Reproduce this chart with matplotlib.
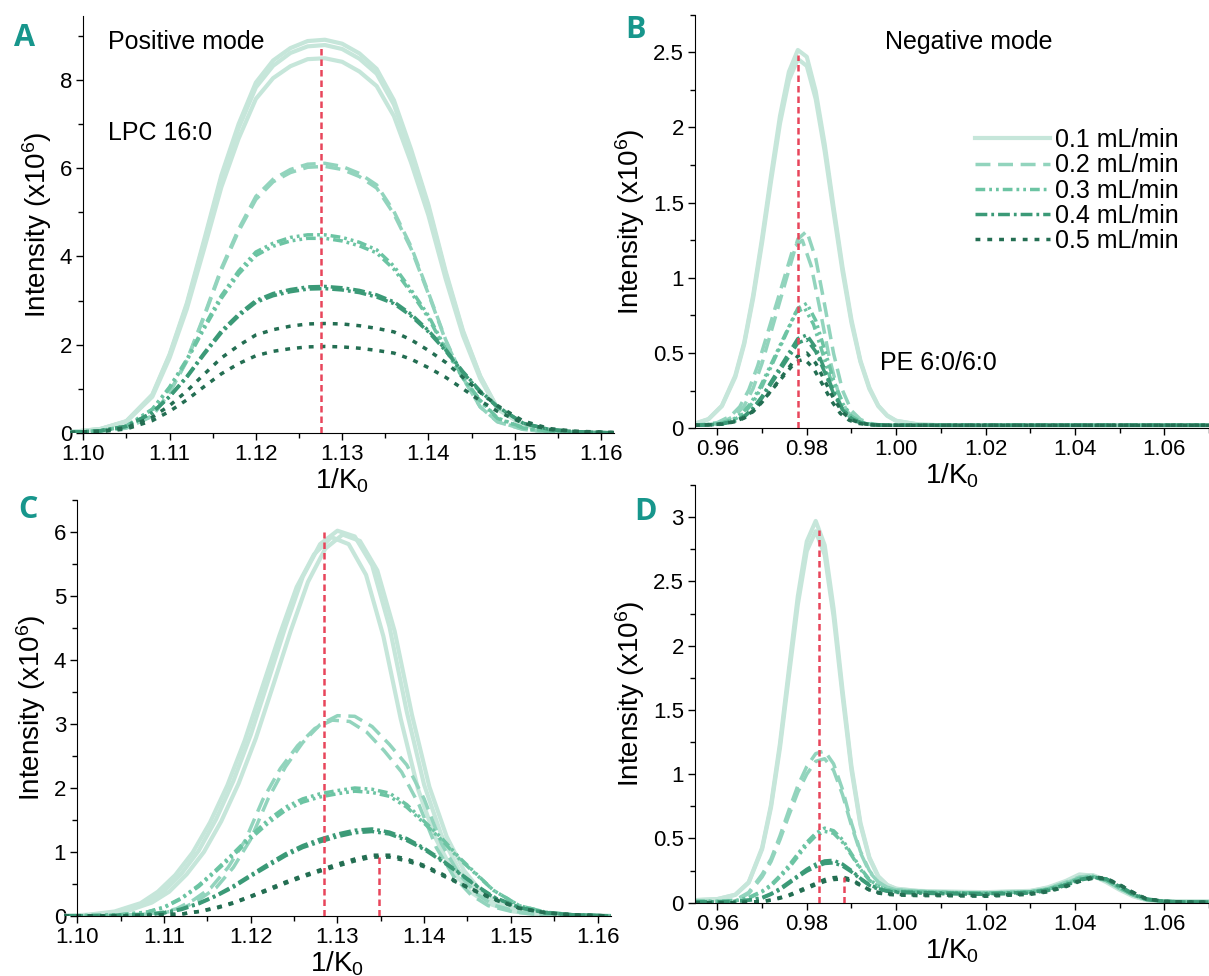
import numpy as np
import matplotlib
matplotlib.use('Agg')
import matplotlib.pyplot as plt
from matplotlib.ticker import MultipleLocator, FormatStrFormatter, FuncFormatter

plt.rcParams['font.family'] = ['Liberation Sans', 'DejaVu Sans']
plt.rcParams['mathtext.fontset'] = 'custom'
plt.rcParams['mathtext.rm'] = 'Liberation Sans'
plt.rcParams['mathtext.default'] = 'regular'

# flow rates, one style each (light -> dark)
rates = ['0.1 mL/min', '0.2 mL/min', '0.3 mL/min', '0.4 mL/min', '0.5 mL/min']
colors = ['#c6e6da', '#92d4bd', '#6cc4a3', '#3b9a77', '#236e52']
styles = ['-', (0, (4.3, 2.2)), (0, (2.8, 1.15, 0.8, 1.15, 0.8, 1.15)),
          (0, (3.4, 1.15, 0.8, 1.15)), (0, (1.4, 2.0))]
widths = [3.0, 2.5, 2.5, 2.5, 2.5]
red = '#e8455b'

# ---- panel A : LPC 16:0, positive mode ----
xa = [1.0985, 1.102, 1.105, 1.108, 1.110, 1.112, 1.114, 1.116, 1.118, 1.120,
      1.122, 1.124, 1.126, 1.128, 1.130, 1.132, 1.134, 1.136, 1.138, 1.140,
      1.142, 1.144, 1.146, 1.148, 1.151, 1.154, 1.157, 1.1615]
a_01 = [[0.02, 0.09, 0.27, 0.87, 1.78, 2.94, 4.37, 5.84, 7.00, 7.94, 8.44, 8.72, 8.88, 8.91,
         8.82, 8.60, 8.25, 7.54, 6.42, 5.17, 3.66, 2.32, 1.29, 0.56, 0.19, 0.06, 0.01, 0],
        [0.02, 0.09, 0.26, 0.85, 1.76, 2.90, 4.31, 5.76, 6.91, 7.83, 8.32, 8.61, 8.76, 8.79,
         8.70, 8.48, 8.14, 7.44, 6.34, 5.10, 3.61, 2.29, 1.28, 0.55, 0.18, 0.06, 0.01, 0],
        [0.02, 0.09, 0.26, 0.82, 1.70, 2.81, 4.17, 5.57, 6.67, 7.57, 8.04, 8.31, 8.47, 8.49,
         8.41, 8.19, 7.86, 7.18, 6.12, 4.93, 3.49, 2.21, 1.23, 0.54, 0.18, 0.06, 0.01, 0]]
a_02 = [[0.01, 0.04, 0.12, 0.39, 0.92, 1.65, 2.66, 3.73, 4.62, 5.36, 5.75, 5.97, 6.09, 6.11,
         6.04, 5.88, 5.62, 5.02, 4.22, 3.18, 2.11, 1.25, 0.59, 0.26, 0.08, 0.02, 0, 0],
        [0.01, 0.04, 0.11, 0.38, 0.91, 1.63, 2.63, 3.69, 4.57, 5.29, 5.69, 5.90, 6.02, 6.04,
         5.97, 5.81, 5.55, 4.96, 4.17, 3.15, 2.09, 1.24, 0.59, 0.25, 0.08, 0.02, 0, 0]]
a_03 = [[0.01, 0.05, 0.16, 0.54, 1.04, 1.67, 2.41, 3.11, 3.67, 4.10, 4.30, 4.43, 4.49, 4.49,
         4.43, 4.32, 4.15, 3.78, 3.24, 2.66, 1.91, 1.26, 0.74, 0.34, 0.12, 0.04, 0.01, 0],
        [0.01, 0.05, 0.15, 0.53, 1.02, 1.64, 2.36, 3.05, 3.60, 4.02, 4.23, 4.35, 4.41, 4.41,
         4.35, 4.24, 4.08, 3.71, 3.18, 2.61, 1.88, 1.24, 0.73, 0.33, 0.11, 0.04, 0.01, 0]]
a_04 = [[0.01, 0.05, 0.15, 0.46, 0.83, 1.28, 1.81, 2.31, 2.69, 3.00, 3.16, 3.25, 3.31, 3.32,
         3.29, 3.23, 3.13, 2.97, 2.69, 2.32, 1.89, 1.39, 0.95, 0.60, 0.22, 0.08, 0.03, 0],
        [0.01, 0.05, 0.15, 0.46, 0.82, 1.26, 1.78, 2.27, 2.65, 2.96, 3.11, 3.20, 3.26, 3.27,
         3.24, 3.18, 3.08, 2.93, 2.65, 2.29, 1.86, 1.37, 0.93, 0.59, 0.22, 0.08, 0.03, 0]]
a_05 = [[0.01, 0.04, 0.12, 0.36, 0.62, 0.95, 1.33, 1.70, 1.98, 2.22, 2.34, 2.42, 2.47, 2.48,
         2.47, 2.43, 2.37, 2.29, 2.11, 1.87, 1.60, 1.26, 0.92, 0.62, 0.27, 0.10, 0.04, 0.01],
        [0.01, 0.03, 0.09, 0.28, 0.49, 0.75, 1.05, 1.34, 1.57, 1.75, 1.85, 1.91, 1.95, 1.96,
         1.95, 1.92, 1.87, 1.81, 1.67, 1.48, 1.26, 1.00, 0.73, 0.49, 0.22, 0.08, 0.03, 0.01]]
a_shift = [[0, 0, 0], [0, 0], [0, 0], [0, 0], [0, 0]]
red_a_x = [1.1275]
red_a_top = [8.8]

# ---- panel B : PE 6:0/6:0, negative mode ----
xb = [0.955, 0.958, 0.961, 0.964, 0.966, 0.968, 0.970, 0.972, 0.974, 0.976,
      0.978, 0.980, 0.982, 0.984, 0.986, 0.988, 0.990, 0.992, 0.994, 0.996,
      0.998, 1.000, 1.005, 1.010, 1.020, 1.030, 1.040, 1.050, 1.060, 1.070]
b_01 = [[0.03, 0.06, 0.15, 0.35, 0.57, 0.885, 1.265, 1.68, 2.075, 2.37, 2.515, 2.47, 2.24, 1.89,
         1.47, 1.07, 0.72, 0.45, 0.27, 0.15, 0.085, 0.05, 0.025, 0.02, 0.02, 0.02, 0.02, 0.02, 0.02, 0.02],
        [0.032, 0.061, 0.147, 0.34, 0.559, 0.864, 1.235, 1.643, 2.026, 2.314, 2.455, 2.409, 2.189, 1.843,
         1.438, 1.042, 0.701, 0.442, 0.262, 0.147, 0.083, 0.049, 0.025, 0.02, 0.02, 0.02, 0.02, 0.02, 0.02, 0.02]]
b_02 = [[0.02, 0.026, 0.039, 0.085, 0.149, 0.265, 0.433, 0.639, 0.846, 1.052, 1.258, 1.31, 1.129, 0.82,
         0.497, 0.252, 0.117, 0.059, 0.033, 0.024, 0.02, 0.02, 0.02, 0.02, 0.02, 0.02, 0.02, 0.02, 0.02, 0.02],
        [0.02, 0.026, 0.038, 0.082, 0.143, 0.254, 0.414, 0.61, 0.807, 1.004, 1.201, 1.25, 1.078, 0.783,
         0.475, 0.241, 0.112, 0.057, 0.032, 0.024, 0.02, 0.02, 0.02, 0.02, 0.02, 0.02, 0.02, 0.02, 0.02, 0.02]]
b_03 = [[0.02, 0.024, 0.032, 0.061, 0.101, 0.174, 0.279, 0.409, 0.538, 0.668, 0.798, 0.83, 0.717, 0.522,
         0.32, 0.166, 0.081, 0.044, 0.028, 0.022, 0.02, 0.02, 0.02, 0.02, 0.02, 0.02, 0.02, 0.02, 0.02, 0.02],
        [0.02, 0.024, 0.032, 0.059, 0.098, 0.168, 0.27, 0.394, 0.519, 0.644, 0.769, 0.80, 0.691, 0.504,
         0.309, 0.16, 0.079, 0.043, 0.028, 0.022, 0.02, 0.02, 0.02, 0.02, 0.02, 0.02, 0.02, 0.02, 0.02, 0.02]]
b_04 = [[0.02, 0.023, 0.029, 0.05, 0.08, 0.134, 0.212, 0.308, 0.404, 0.50, 0.596, 0.62, 0.536, 0.392,
         0.242, 0.128, 0.065, 0.038, 0.026, 0.022, 0.02, 0.02, 0.02, 0.02, 0.02, 0.02, 0.02, 0.02, 0.02, 0.02],
        [0.02, 0.023, 0.029, 0.049, 0.077, 0.128, 0.202, 0.294, 0.385, 0.476, 0.567, 0.59, 0.51, 0.373,
         0.231, 0.123, 0.063, 0.037, 0.026, 0.022, 0.02, 0.02, 0.02, 0.02, 0.02, 0.02, 0.02, 0.02, 0.02, 0.02]]
b_05 = [[0.02, 0.022, 0.027, 0.044, 0.068, 0.111, 0.174, 0.25, 0.327, 0.404, 0.481, 0.50, 0.433, 0.318,
         0.198, 0.106, 0.056, 0.034, 0.025, 0.021, 0.02, 0.02, 0.02, 0.02, 0.02, 0.02, 0.02, 0.02, 0.02, 0.02],
        [0.02, 0.022, 0.027, 0.042, 0.064, 0.104, 0.161, 0.231, 0.302, 0.372, 0.442, 0.46, 0.398, 0.293,
         0.183, 0.099, 0.053, 0.033, 0.024, 0.021, 0.02, 0.02, 0.02, 0.02, 0.02, 0.02, 0.02, 0.02, 0.02, 0.02]]
b_shift = [[0, 0], [0, -0.001], [0, -0.0005], [0, 0], [0, -0.0005]]
red_b_x = [0.978]
red_b_top = [2.48]

# ---- panel C ----
xc = xa
c_01 = [[0, 0.02, 0.07, 0.21, 0.39, 0.66, 1.02, 1.51, 2.11, 2.83, 3.67, 4.52, 5.30, 5.81,
         6.02, 5.93, 5.48, 4.52, 3.19, 2.05, 1.26, 0.72, 0.39, 0.21, 0.07, 0.02, 0.01, 0],
        [0, 0.02, 0.07, 0.20, 0.38, 0.64, 0.99, 1.46, 2.04, 2.74, 3.56, 4.38, 5.14, 5.65,
         5.92, 5.81, 5.33, 4.37, 3.08, 1.98, 1.22, 0.70, 0.38, 0.20, 0.07, 0.02, 0.01, 0],
        [0, 0.02, 0.07, 0.21, 0.38, 0.65, 1.00, 1.48, 2.07, 2.78, 3.61, 4.45, 5.22, 5.74,
         5.96, 5.86, 5.40, 4.45, 3.14, 2.02, 1.24, 0.71, 0.38, 0.21, 0.07, 0.02, 0.01, 0]]
c_02 = [[0, 0, 0.01, 0.03, 0.05, 0.11, 0.25, 0.44, 0.76, 1.20, 1.83, 2.33, 2.71, 2.99,
         3.13, 3.12, 2.96, 2.68, 2.36, 1.83, 1.13, 0.66, 0.35, 0.17, 0.06, 0.02, 0.01, 0],
        [0, 0, 0.01, 0.03, 0.05, 0.11, 0.25, 0.44, 0.76, 1.19, 1.82, 2.30, 2.66, 2.93,
         3.06, 3.04, 2.87, 2.58, 2.25, 1.74, 1.07, 0.62, 0.33, 0.16, 0.06, 0.02, 0.01, 0]]
c_03 = [[0, 0.01, 0.02, 0.06, 0.14, 0.28, 0.48, 0.72, 0.98, 1.25, 1.50, 1.70, 1.83, 1.91,
         1.96, 2.00, 1.98, 1.92, 1.74, 1.48, 1.22, 0.92, 0.66, 0.40, 0.16, 0.06, 0.02, 0],
        [0, 0.01, 0.02, 0.06, 0.13, 0.27, 0.46, 0.70, 0.95, 1.21, 1.45, 1.65, 1.78, 1.86,
         1.91, 1.95, 1.93, 1.87, 1.70, 1.45, 1.19, 0.90, 0.65, 0.40, 0.16, 0.06, 0.02, 0]]
c_04 = [[0, 0, 0.01, 0.02, 0.05, 0.11, 0.20, 0.32, 0.47, 0.64, 0.81, 0.97, 1.10, 1.20,
         1.28, 1.34, 1.36, 1.31, 1.21, 1.06, 0.88, 0.68, 0.48, 0.30, 0.13, 0.05, 0.02, 0],
        [0, 0, 0.01, 0.02, 0.05, 0.10, 0.19, 0.31, 0.45, 0.62, 0.78, 0.94, 1.07, 1.16,
         1.24, 1.30, 1.32, 1.28, 1.18, 1.04, 0.86, 0.67, 0.47, 0.29, 0.13, 0.05, 0.02, 0]]
c_05 = [[0, 0, 0, 0.01, 0.02, 0.03, 0.07, 0.13, 0.21, 0.31, 0.42, 0.53, 0.63, 0.72,
         0.81, 0.89, 0.95, 0.95, 0.89, 0.79, 0.66, 0.52, 0.39, 0.27, 0.12, 0.05, 0.02, 0],
        [0, 0, 0, 0.01, 0.02, 0.03, 0.07, 0.12, 0.20, 0.30, 0.40, 0.51, 0.61, 0.70,
         0.78, 0.86, 0.92, 0.92, 0.86, 0.77, 0.64, 0.51, 0.38, 0.26, 0.12, 0.05, 0.02, 0]]
c_shift = [[0, -0.0007, 0.0006], [0, -0.0006], [0, 0], [0, 0], [0, 0]]
red_c_x = [1.1285, 1.1348]
red_c_top = [6.0, 0.95]

# ---- panel D ----
xd = [0.955, 0.960, 0.964, 0.967, 0.970, 0.972, 0.974, 0.976, 0.978, 0.980,
      0.982, 0.984, 0.986, 0.988, 0.990, 0.992, 0.994, 0.996, 0.998, 1.000,
      1.005, 1.010, 1.020, 1.030, 1.034, 1.038, 1.041, 1.044, 1.047, 1.050,
      1.053, 1.056, 1.060, 1.065, 1.070]
d_01 = [[0.02, 0.028, 0.062, 0.159, 0.427, 0.762, 1.238, 1.815, 2.385, 2.811, 2.97, 2.782, 2.288, 1.653,
         1.06, 0.622, 0.353, 0.205, 0.138, 0.109, 0.09, 0.085, 0.08, 0.09, 0.12, 0.17, 0.22, 0.21,
         0.16, 0.10, 0.05, 0.02, 0.01, 0.01, 0.01],
        [0.02, 0.028, 0.061, 0.156, 0.416, 0.742, 1.205, 1.766, 2.321, 2.736, 2.89, 2.707, 2.226, 1.609,
         1.032, 0.606, 0.346, 0.202, 0.136, 0.108, 0.092, 0.087, 0.082, 0.092, 0.115, 0.16, 0.205, 0.215,
         0.175, 0.11, 0.055, 0.022, 0.01, 0.01, 0.01]]
d_02 = [[0.01, 0.01, 0.02, 0.08, 0.22, 0.34, 0.52, 0.72, 0.91, 1.06, 1.16, 1.18, 1.08, 0.88,
         0.62, 0.40, 0.25, 0.16, 0.12, 0.10, 0.09, 0.08, 0.075, 0.085, 0.11, 0.16, 0.20, 0.21,
         0.17, 0.11, 0.06, 0.025, 0.01, 0.005, 0.005],
        [0.01, 0.01, 0.02, 0.07, 0.20, 0.32, 0.49, 0.68, 0.86, 1.00, 1.10, 1.12, 1.03, 0.84,
         0.60, 0.39, 0.24, 0.16, 0.12, 0.10, 0.09, 0.08, 0.075, 0.085, 0.11, 0.155, 0.195, 0.205,
         0.17, 0.11, 0.06, 0.025, 0.01, 0.005, 0.005]]
d_03 = [[0.01, 0.01, 0.015, 0.04, 0.09, 0.14, 0.21, 0.29, 0.38, 0.47, 0.54, 0.58, 0.56, 0.49,
         0.38, 0.27, 0.18, 0.13, 0.10, 0.09, 0.085, 0.08, 0.075, 0.085, 0.105, 0.15, 0.19, 0.205,
         0.175, 0.115, 0.06, 0.025, 0.01, 0.005, 0.005],
        [0.01, 0.01, 0.015, 0.035, 0.085, 0.13, 0.20, 0.27, 0.36, 0.45, 0.52, 0.555, 0.54, 0.47,
         0.37, 0.26, 0.175, 0.125, 0.10, 0.09, 0.085, 0.08, 0.075, 0.085, 0.105, 0.145, 0.185, 0.20,
         0.175, 0.115, 0.06, 0.025, 0.01, 0.005, 0.005]]
d_04 = [[0.005, 0.005, 0.01, 0.02, 0.04, 0.07, 0.11, 0.16, 0.21, 0.26, 0.30, 0.325, 0.33, 0.30,
         0.25, 0.19, 0.14, 0.11, 0.09, 0.085, 0.08, 0.075, 0.07, 0.08, 0.10, 0.14, 0.18, 0.20,
         0.185, 0.125, 0.065, 0.025, 0.01, 0.005, 0.005],
        [0.005, 0.005, 0.01, 0.02, 0.035, 0.065, 0.10, 0.15, 0.20, 0.245, 0.28, 0.305, 0.31, 0.285,
         0.24, 0.185, 0.135, 0.105, 0.09, 0.08, 0.075, 0.07, 0.065, 0.075, 0.095, 0.135, 0.175, 0.195,
         0.185, 0.13, 0.07, 0.03, 0.01, 0.005, 0.005]]
d_05 = [[0.0, 0.0, 0.0, 0.005, 0.01, 0.02, 0.04, 0.06, 0.09, 0.12, 0.15, 0.18, 0.195, 0.20,
         0.18, 0.14, 0.10, 0.08, 0.07, 0.065, 0.06, 0.06, 0.055, 0.07, 0.09, 0.13, 0.17, 0.20,
         0.19, 0.14, 0.08, 0.03, 0.01, 0.005, 0.005],
        [0.0, 0.0, 0.0, 0.005, 0.01, 0.02, 0.035, 0.055, 0.08, 0.11, 0.14, 0.165, 0.18, 0.185,
         0.17, 0.135, 0.10, 0.075, 0.065, 0.06, 0.055, 0.055, 0.05, 0.065, 0.085, 0.125, 0.165, 0.19,
         0.185, 0.14, 0.08, 0.03, 0.01, 0.005, 0.005]]
d_shift = [[0, 0], [0, 0], [0, 0], [0, 0], [0, 0]]
red_d_x = [0.9828, 0.9883]
red_d_top = [2.9, 0.2]


def draw(ax, x, groups, shifts, red_x, red_top):
    for i, reps in enumerate(groups):
        for j, y in enumerate(reps):
            ax.plot(np.array(x) + shifts[i][j], y, color=colors[i], ls=styles[i], lw=widths[i],
                    label=rates[i] if j == 0 else None)
    for rx, rt in zip(red_x, red_top):
        ax.plot([rx, rx], [0, rt], color=red, lw=1.8, ls=(0, (2.6, 1.6)), zorder=5)


def style(ax, xlim, ylim, xmaj, ymaj, spine_x=None):
    ax.set_facecolor('none')
    ax.set_xlim(*xlim)
    ax.set_ylim(*ylim)
    ax.spines['top'].set_visible(False)
    ax.spines['right'].set_visible(False)
    if spine_x is not None:
        ax.spines['left'].set_position(('data', spine_x))
        ax.spines['bottom'].set_bounds(spine_x, xlim[1])
    ax.xaxis.set_major_locator(MultipleLocator(xmaj))
    ax.xaxis.set_minor_locator(MultipleLocator(xmaj / 2))
    ax.yaxis.set_major_locator(MultipleLocator(ymaj))
    ax.yaxis.set_minor_locator(MultipleLocator(ymaj / 2))
    ax.xaxis.set_major_formatter(FormatStrFormatter('%.2f'))
    ax.yaxis.set_major_formatter(FuncFormatter(lambda v, p: '%g' % v))
    ax.tick_params(which='major', direction='out', length=5, width=1, labelsize=16, pad=3)
    ax.tick_params(which='minor', direction='out', length=3.5, width=1)
    ax.set_xlabel('1/K$_0$', fontsize=20, labelpad=1)
    ax.set_ylabel('Intensity (x10$^6$)', fontsize=20, labelpad=4)


fig = plt.figure(figsize=(12.09, 9.76), dpi=100)
axA = fig.add_axes([0.0582, 0.5564, 0.4496, 0.4273])
axB = fig.add_axes([0.5749, 0.5612, 0.4251, 0.4238])
axC = fig.add_axes([0.0532, 0.0615, 0.4518, 0.4262])
axD = fig.add_axes([0.5749, 0.0751, 0.4251, 0.4280])

draw(axA, xa, [a_01, a_02, a_03, a_04, a_05], a_shift, red_a_x, red_a_top)
draw(axB, xb, [b_01, b_02, b_03, b_04, b_05], b_shift, red_b_x, red_b_top)
draw(axC, xc, [c_01, c_02, c_03, c_04, c_05], c_shift, red_c_x, red_c_top)
draw(axD, xd, [d_01, d_02, d_03, d_04, d_05], d_shift, red_d_x, red_d_top)

style(axA, (1.0985, 1.1615), (0, 9.45), 0.01, 2, spine_x=1.10)
style(axB, (0.955, 1.070), (0, 2.75), 0.02, 0.5)
style(axC, (1.0985, 1.1615), (0, 6.5), 0.01, 1, spine_x=1.10)
style(axD, (0.955, 1.070), (0, 3.25), 0.02, 0.5)

axA.text(0.069, 0.938, 'Positive mode', transform=axA.transAxes, fontsize=18, va='center')
axA.text(0.069, 0.719, 'LPC 16:0', transform=axA.transAxes, fontsize=18, va='center')
axB.text(0.37, 0.934, 'Negative mode', transform=axB.transAxes, fontsize=18, va='center')
axB.text(0.36, 0.158, 'PE 6:0/6:0', transform=axB.transAxes, fontsize=18, va='center')

axB.legend(loc='upper left', bbox_to_anchor=(0.545, 0.7255), frameon=False, fontsize=18,
           handlelength=3.0, handletextpad=0.2, labelspacing=0.05, borderpad=0, borderaxespad=0)

for lab, px, py in [('A', 0.0199, 0.961), ('B', 0.526, 0.969), ('C', 0.0232, 0.4775), ('D', 0.534, 0.475)]:
    fig.text(px, py, lab, fontsize=22, fontweight='bold', color='#17968c',
             ha='center', va='center', family=['Open Sans', 'DejaVu Sans'])

fig.savefig('out.png', dpi=100)
